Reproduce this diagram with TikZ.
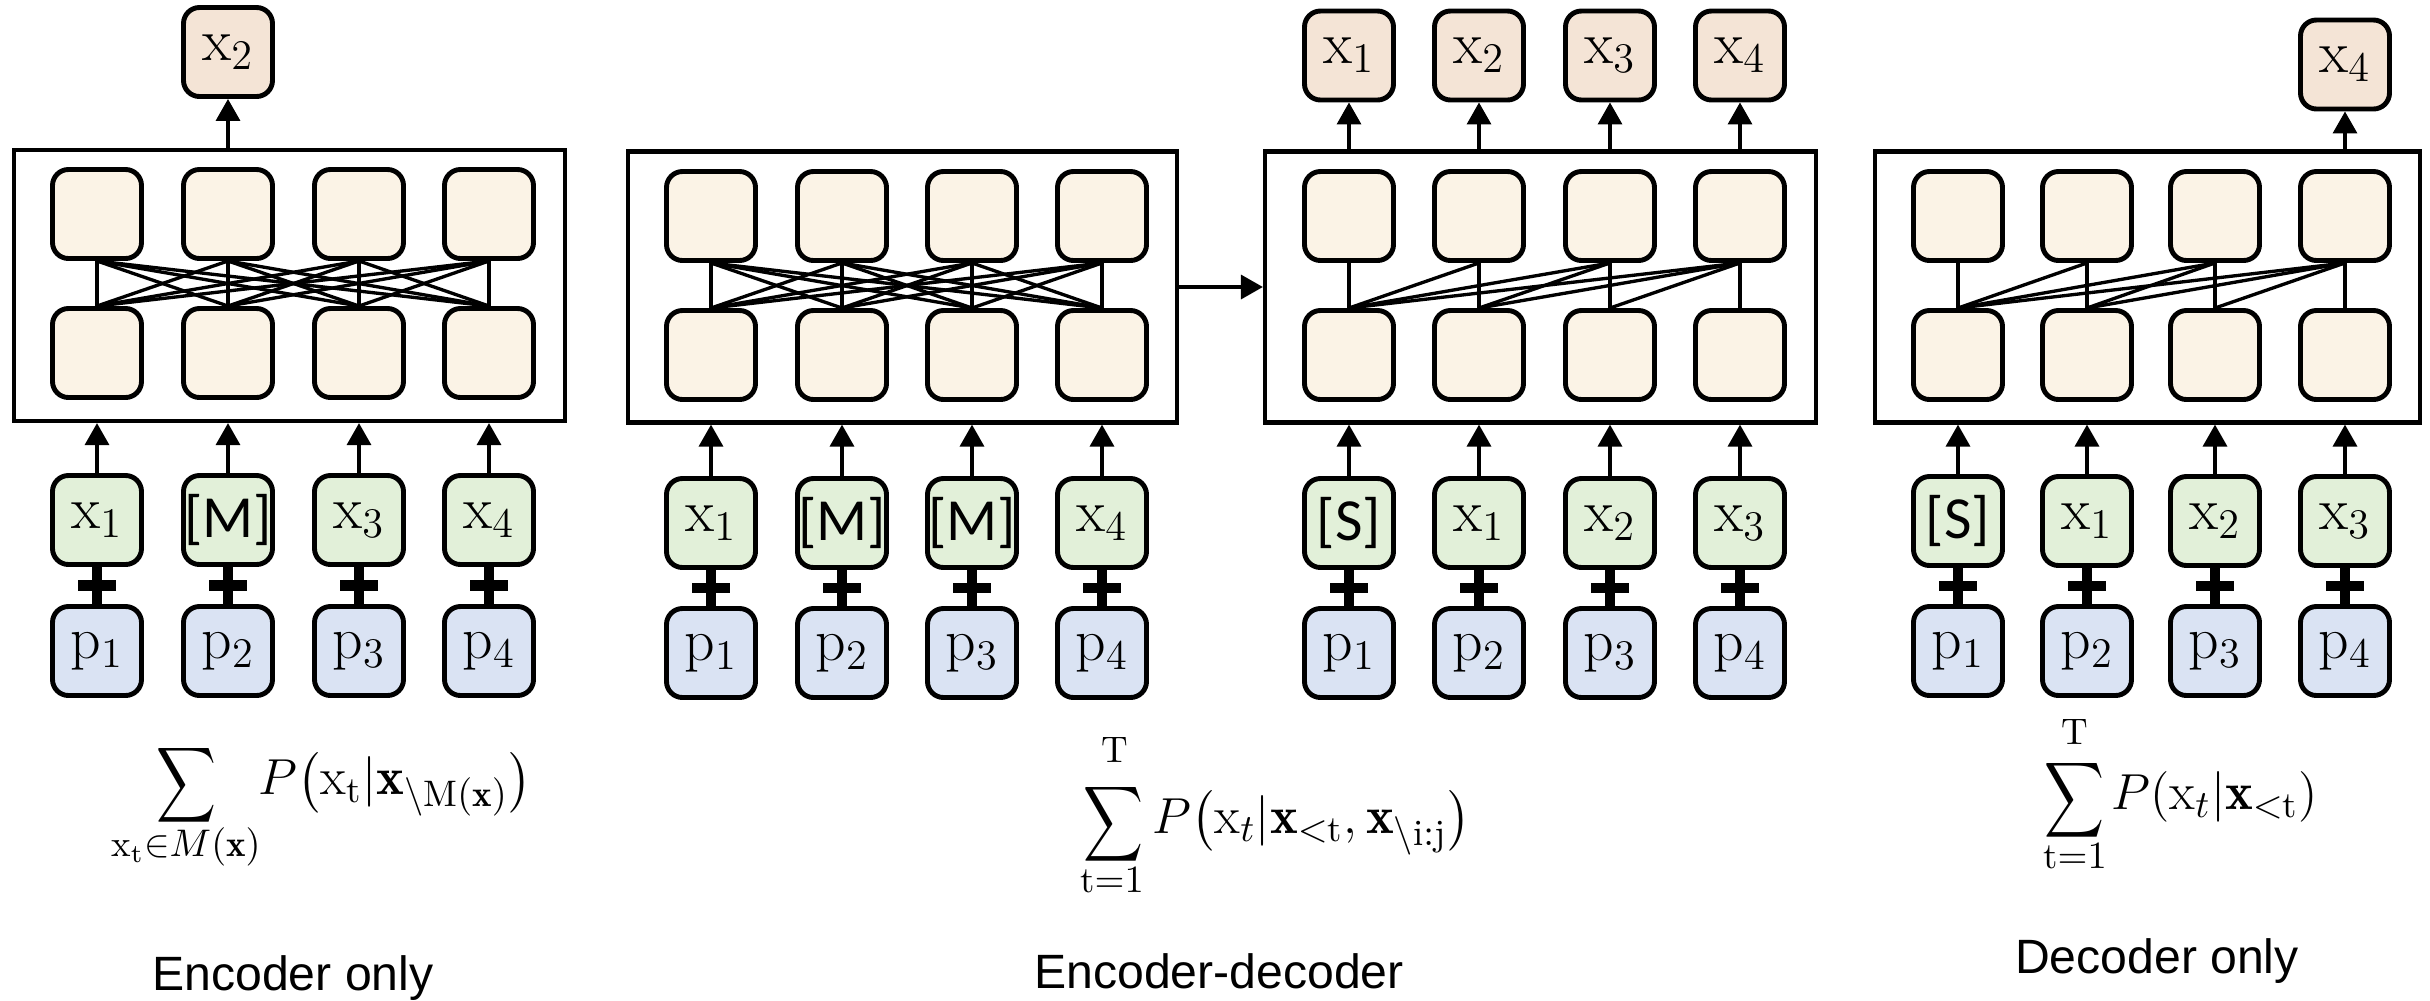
\documentclass[tikz,border=0pt]{standalone}
\usepackage{amsmath}
\usepackage{graphicx}
\usepackage{fontspec}
\newfontfamily\capfont{Liberation Sans}
\newfontfamily\tokfont{Carlito}
\usetikzlibrary{arrows.meta,calc}
\definecolor{outc}{HTML}{F4E4D6}
\definecolor{innc}{HTML}{FBF3E6}
\definecolor{grnc}{HTML}{E2F0D9}
\definecolor{bluc}{HTML}{DAE3F3}
\newcommand{\xs}[1]{$\mathrm{x}_{#1}$}
\newcommand{\ps}[1]{$\mathrm{p}_{#1}$}
\newcommand{\tokM}{{\tokfont [M]}}
\newcommand{\tokS}{{\tokfont [S]}}
\newcommand{\bigsigma}{\scalebox{0.82}[1.04]{$\displaystyle\sum$}}
\tikzset{
  cell/.style={draw, line width=1.4pt, rounded corners=1.6mm, minimum width=8.9mm,
    minimum height=8.9mm, inner sep=0pt, font=\fontsize{17}{20}\selectfont},
  outbox/.style={cell, fill=outc},
  innbox/.style={cell, fill=innc},
  tokbox/.style={cell, fill=grnc},
  posbox/.style={cell, fill=bluc},
  frame/.style={draw, line width=1.2pt, inner sep=0pt},
  arr/.style={line width=1pt, -{Triangle[width=2.4mm,length=2.2mm]}},
  link/.style={line width=0.95pt},
  plusv/.style={line width=2.6pt},
  plush/.style={line width=3pt},
  captxt/.style={font=\capfont\fontsize{13.7}{16}\selectfont, inner sep=0pt, anchor=base},
  frm/.style={font=\fontsize{15}{18}\selectfont, inner sep=0pt},
  lim/.style={font=\fontsize{10.5}{12}\selectfont, inner sep=0pt},
}
\begin{document}
\begin{tikzpicture}[x=0.1mm,y=-0.1mm]
\useasboundingbox (0,0) rectangle (2430,1000);

% ---------------- frames
\node[frame, minimum width=55.1mm, minimum height=27.1mm] (F1) at (289.5,285.5) {};
\node[frame, minimum width=54.9mm, minimum height=27.1mm] (F2) at (902.5,287) {};
\node[frame, minimum width=55.1mm, minimum height=27.1mm] (F3) at (1540.5,287) {};
\node[frame, minimum width=54.5mm, minimum height=27.1mm] (F4) at (2147.5,287) {};

% ---------------- panel 1 : encoder only
\foreach \i/\x/\t in {1/97/{\xs1}, 2/228/{\tokM}, 3/359/{\xs3}, 4/489/{\xs4}} {
  \node[innbox] (A-t\i) at (\x,214) {};
  \node[innbox] (A-b\i) at (\x,353) {};
  \node[tokbox] (A-g\i) at (\x,520) {\t};
  \node[posbox] (A-p\i) at (\x,651) {\ps{\i}};
}
\node[outbox] (A-o2) at (228,52) {\xs2};

% ---------------- panel 2 : encoder of encoder-decoder
\foreach \i/\x/\t in {1/711/{\xs1}, 2/842/{\tokM}, 3/972/{\tokM}, 4/1102/{\xs4}} {
  \node[innbox] (B-t\i) at (\x,216) {};
  \node[innbox] (B-b\i) at (\x,355) {};
  \node[tokbox] (B-g\i) at (\x,523) {\t};
  \node[posbox] (B-p\i) at (\x,653) {\ps{\i}};
}

% ---------------- panel 3 : decoder of encoder-decoder
\foreach \i/\x/\t in {1/1349/{\tokS}, 2/1479/{\xs1}, 3/1610/{\xs2}, 4/1740/{\xs3}} {
  \node[innbox] (C-t\i) at (\x,216) {};
  \node[innbox] (C-b\i) at (\x,355) {};
  \node[tokbox] (C-g\i) at (\x,523) {\t};
  \node[posbox] (C-p\i) at (\x,653) {\ps{\i}};
  \node[outbox] (C-o\i) at (\x,55.5) {\xs{\i}};
}

% ---------------- panel 4 : decoder only
\foreach \i/\x/\t in {1/1958/{\tokS}, 2/2087/{\xs1}, 3/2215/{\xs2}, 4/2345/{\xs3}} {
  \node[innbox] (D-t\i) at (\x,216) {};
  \node[innbox] (D-b\i) at (\x,355) {};
  \node[tokbox] (D-g\i) at (\x,521) {\t};
  \node[posbox] (D-p\i) at (\x,651) {\ps{\i}};
}
\node[outbox] (D-o4) at (2345,64.5) {\xs4};

% ---------------- attention links
\foreach \P in {A,B} {
  \foreach \i in {1,...,4} {
    \foreach \j in {1,...,4} {
      \draw[link] (\P-b\i.north) -- (\P-t\j.south);
    }
  }
}
\foreach \P in {C,D} {
  \foreach \i in {1,...,4} {
    \foreach \j in {\i,...,4} {
      \draw[link] (\P-b\i.north) -- (\P-t\j.south);
    }
  }
}

% ---------------- input arrows and plus signs
\foreach \P/\F in {A/F1,B/F2,C/F3,D/F4} {
  \foreach \i in {1,...,4} {
    \draw[arr] (\P-g\i) -- (\P-g\i |- \F.south);
    \draw[plusv] (\P-g\i) -- (\P-p\i);
    \draw[plush] ($(\P-g\i.south)!0.5!(\P-p\i.north)$) +(-19,0) -- +(19,0);
  }
}

% ---------------- output arrows
\draw[arr] (A-o2 |- F1.north) -- (A-o2);
\foreach \i in {1,...,4} {
  \draw[arr] (C-o\i |- F3.north) -- (C-o\i);
}
\draw[arr] (D-o4 |- F4.north) -- (D-o4);
\draw[arr] (F2.east) -- (F3.west);

% ---------------- formulas
\node[frm] (S1) at (186,785) {\bigsigma};
\node[lim] (S1b) at (186,847) {$\mathrm{x_t}{\in}M(\mathbf{x})$};
\node[frm, anchor=west] (E1) at (258,784)
  {$P\bigl(\mathrm{x_t}|\mathbf{x}_{\setminus\mathrm{M}(\mathbf{x})}\bigr)$};

\node[frm] (S2) at (1113,824) {\bigsigma};
\node[lim] (S2a) at (1115,750) {$\mathrm{T}$};
\node[lim] (S2b) at (1112,880) {$\mathrm{t}{=}1$};
\node[frm, anchor=west] (E2) at (1152,823)
  {$P\bigl(\mathrm{x}_t|\mathbf{x}_{<\mathrm{t}},\mathbf{x}_{\setminus\mathrm{i:j}}\bigr)$};

\node[frm] (S3) at (2074,800) {\bigsigma};
\node[lim] (S3a) at (2075,732) {$\mathrm{T}$};
\node[lim] (S3b) at (2075,856) {$\mathrm{t}{=}1$};
\node[frm, anchor=west] (E3) at (2111,797)
  {$P(\mathrm{x}_t|\mathbf{x}_{<\mathrm{t}})$};

% ---------------- captions
\node[captxt] (L1) at (293,990) {Encoder only};
\node[captxt] (L2) at (1219,988) {Encoder-decoder};
\node[captxt] (L3) at (2157,973) {Decoder only};
\end{tikzpicture}
\end{document}
